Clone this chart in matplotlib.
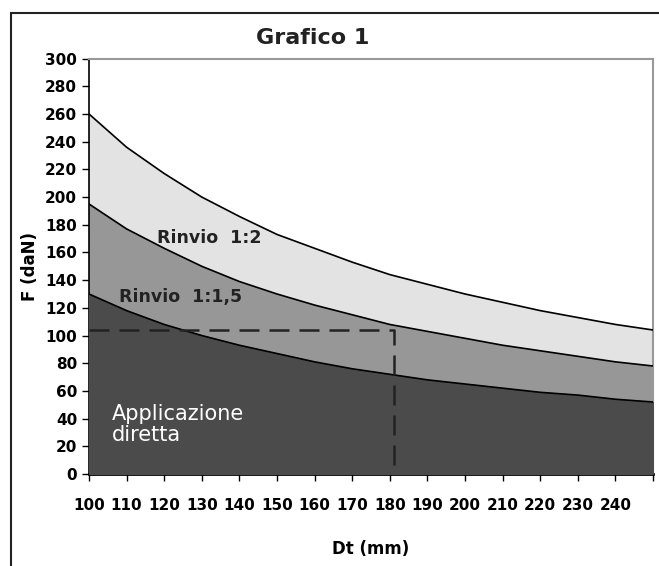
import numpy as np
import matplotlib.pyplot as plt
from matplotlib.patches import Rectangle

# Dt (mm) and force values
dt = [100, 110, 120, 130, 140, 150, 160, 170, 180, 190, 200, 210, 220, 230, 240, 250]
diretta = [130, 118, 108, 100, 93, 87, 81, 76, 72, 68, 65, 62, 59, 57, 54, 52]
rinvio_15 = [195, 177, 163, 150, 139, 130, 122, 115, 108, 103, 98, 93, 89, 85, 81, 78]
rinvio_2 = [260, 236, 217, 200, 186, 173, 163, 153, 144, 137, 130, 124, 118, 113, 108, 104]
xtick_labels = [100, 110, 120, 130, 140, 150, 160, 170, 180, 190, 200, 210, 220, 230, 240]
yticks = list(range(0, 301, 20))
# dashed reading example
dash_x = 181
dash_y = 104

plt.rcParams['font.family'] = ['DejaVu Sans']

fig = plt.figure(figsize=(6.59, 5.66), dpi=100)
ax = fig.add_axes([0.135, 0.1625, 0.856, 0.734])

# outer frame
fig.patches.append(Rectangle((11/659, -0.05), 1.1, 1 - 13/566 + 0.05, transform=fig.transFigure,
                             fill=False, edgecolor='#222222', linewidth=1.5))

ax.fill_between(dt, 0, rinvio_2, color='#e3e3e3', zorder=1)
ax.fill_between(dt, 0, rinvio_15, color='#979797', zorder=2)
ax.fill_between(dt, 0, diretta, color='#4b4b4b', zorder=3)
for s in (rinvio_2, rinvio_15, diretta):
    ax.plot(dt, s, color='black', linewidth=1.2, zorder=4)

ax.plot([dt[0], dash_x, dash_x], [dash_y, dash_y, 0], color='#222222',
        linestyle=(0, (8, 4)), linewidth=1.8, zorder=5)

ax.set_xlim(100, 250)
ax.set_ylim(0, 300)
ax.set_xticks(dt)
ax.set_xticklabels([str(v) for v in xtick_labels] + [''])
ax.set_yticks(yticks)
ax.tick_params(axis='both', labelsize=11, width=1, length=5, direction='out')
ax.tick_params(axis='x', pad=12)
for lab in ax.get_xticklabels() + ax.get_yticklabels():
    lab.set_fontweight('bold')

ax.spines['left'].set_color('black')
ax.spines['left'].set_linewidth(1.2)
ax.spines['bottom'].set_color('black')
ax.spines['bottom'].set_linewidth(2)
ax.spines['top'].set_color('#999999')
ax.spines['top'].set_linewidth(1.5)
ax.spines['right'].set_color('#999999')
ax.spines['right'].set_linewidth(1.5)

fig.text(313/659, 1 - 38/566, 'Grafico 1', ha='center', va='center',
         fontsize=16, fontweight='bold', color='#222222')
ax.set_xlabel('Dt (mm)', fontsize=12, fontweight='bold', labelpad=20)
ax.set_ylabel('F (daN)', fontsize=12, fontweight='bold', labelpad=4)

ax.text(118, 167, 'Rinvio  1:2', fontsize=12.5, fontweight='bold', color='#222222', zorder=6)
ax.text(108, 124, 'Rinvio  1:1,5', fontsize=12.5, fontweight='bold', color='#222222', zorder=6)
ax.text(106, 24, 'Applicazione\ndiretta', fontsize=15, color='white', zorder=6,
        linespacing=1.05)

fig.savefig('out.png', dpi=100)
